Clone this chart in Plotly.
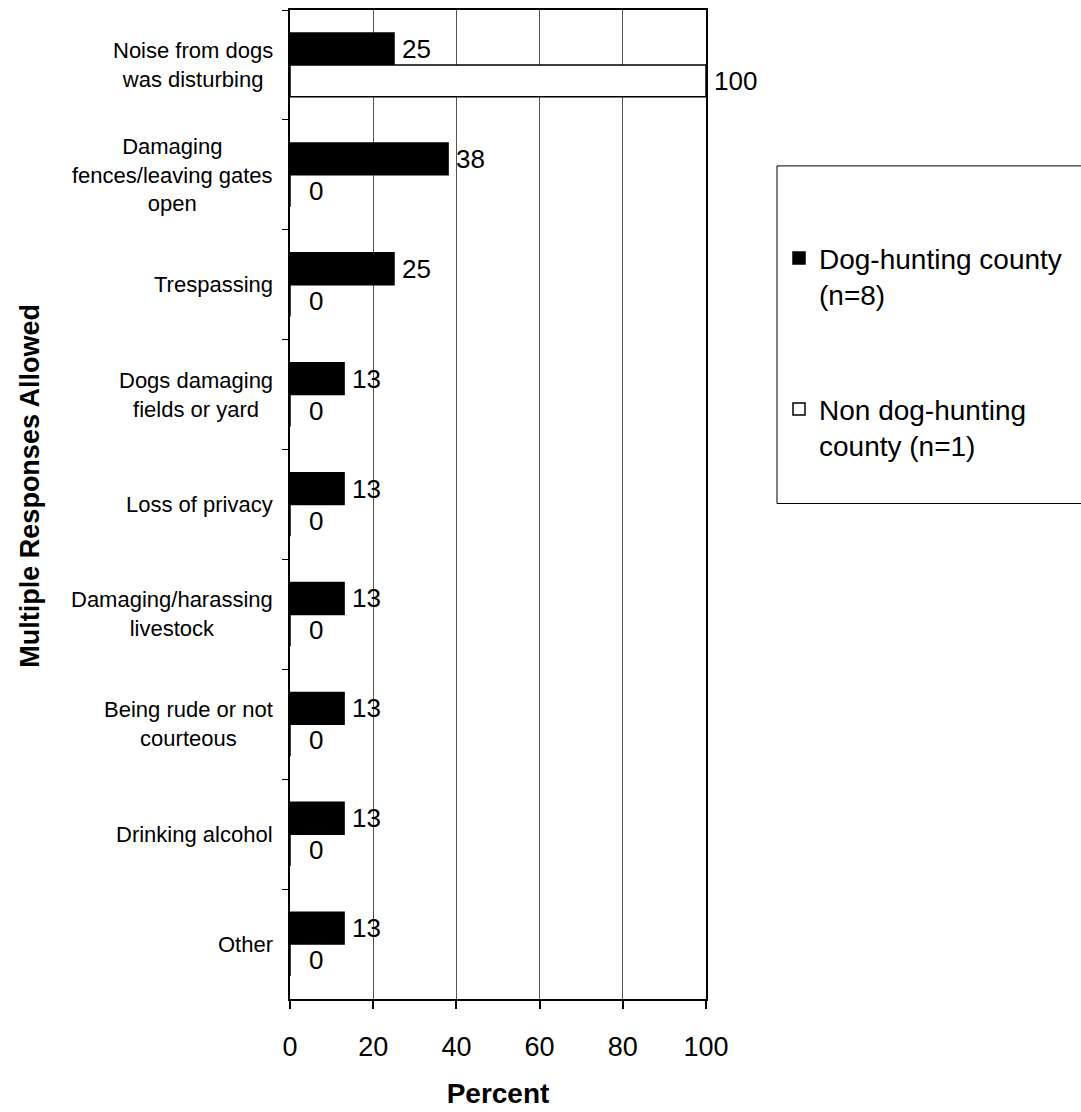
import plotly.graph_objects as go

categories = [
    "Noise from dogs<br>was disturbing",
    "Damaging<br>fences/leaving gates<br>open",
    "Trespassing",
    "Dogs damaging<br>fields or yard",
    "Loss of privacy",
    "Damaging/harassing<br>livestock",
    "Being rude or not<br>courteous",
    "Drinking alcohol",
    "Other",
]
dog_hunting = [25, 38, 25, 13, 13, 13, 13, 13, 13]
non_dog_hunting = [100, 0, 0, 0, 0, 0, 0, 0, 0]
series_names = ["Dog-hunting county<br>(n=8)", "Non dog-hunting<br>county (n=1)"]
x_ticks = [0, 20, 40, 60, 80, 100]

FONT = "Arial, Liberation Sans, sans-serif"
W, H = 1081, 1112
ML, MR, MT, MB = 290, 375, 8, 108
PW, PH = W - ML - MR, H - MT - MB

fig = go.Figure()
fig.add_trace(go.Bar(
    y=categories, x=dog_hunting, orientation="h", name=series_names[0],
    marker=dict(color="black", line=dict(color="black", width=1.5)),
    legendgroup="a",
))
fig.add_trace(go.Bar(
    y=categories, x=non_dog_hunting, orientation="h", name=series_names[1],
    marker=dict(color="white", line=dict(color="black", width=1.5)),
    legendgroup="b",
))

annotations = []
# category labels (right-aligned blocks, centered lines)
for c in categories:
    annotations.append(dict(
        x=0, xref="paper", y=c, yref="y", text=c, showarrow=False,
        xanchor="right", align="center", xshift=-15,
        font=dict(family=FONT, size=22, color="black"),
    ))
# value labels
for vals, ys in ((dog_hunting, 16), (non_dog_hunting, -16)):
    for c, v in zip(categories, vals):
        annotations.append(dict(
            x=v, xref="x", y=c, yref="y", text=str(v), showarrow=False,
            xanchor="left", yanchor="middle", xshift=17 if v == 0 else 6,
            yshift=ys, font=dict(family=FONT, size=26, color="black"),
        ))
# y-axis title
annotations.append(dict(
    x=0, xref="paper", xshift=-260, y=(H - MB - 487) / PH,
    yref="paper", text="<b>Multiple Responses Allowed</b>", textangle=-90,
    showarrow=False, xanchor="center", yanchor="middle",
    font=dict(family=FONT, size=27, color="black"),
))

fig.update_layout(
    width=W, height=H,
    margin=dict(l=ML, r=MR, t=MT, b=MB, pad=0),
    paper_bgcolor="white", plot_bgcolor="white",
    barmode="group", bargap=0.42, bargroupgap=0,
    font=dict(family=FONT, color="black"),
    showlegend=True,
    legend=dict(
        x=(779 - ML) / PW, xanchor="left",
        y=(H - MB - 233) / PH, yanchor="top",
        bgcolor="rgba(0,0,0,0)", borderwidth=0,
        font=dict(family=FONT, size=28, color="black"),
        valign="top", tracegroupgap=75, traceorder="grouped",
    ),
    annotations=annotations,
    shapes=[dict(
        type="rect", xref="paper", yref="paper",
        x0=(777 - ML) / PW, x1=(1090 - ML) / PW,
        y0=(H - MB - 505) / PH, y1=(H - MB - 165) / PH,
        line=dict(color="black", width=1), fillcolor="rgba(0,0,0,0)",
    )],
    xaxis=dict(
        range=[0, 100], tickvals=x_ticks, ticktext=[str(t) for t in x_ticks],
        ticks="outside", ticklen=8, tickcolor="black", tickwidth=1.5,
        showline=True, linecolor="black", linewidth=2, mirror=True,
        showgrid=True, gridcolor="#555555", gridwidth=1, zeroline=False,
        tickfont=dict(family=FONT, size=27, color="black"),
        ticklabelstandoff=15,
        title=dict(text="<b>Percent</b>", standoff=22,
                   font=dict(family=FONT, size=28, color="black")),
    ),
    yaxis=dict(
        type="category", autorange="reversed",
        showticklabels=False, tickson="boundaries",
        ticks="outside", ticklen=6, tickcolor="black", tickwidth=1,
        showline=True, linecolor="black", linewidth=2, mirror=True,
        showgrid=False, zeroline=False,
    ),
)

fig.write_html(
    "out.html",
    config={"displayModeBar": False},
    post_script="document.body.style.margin='0';document.body.style.overflow='hidden';",
)
